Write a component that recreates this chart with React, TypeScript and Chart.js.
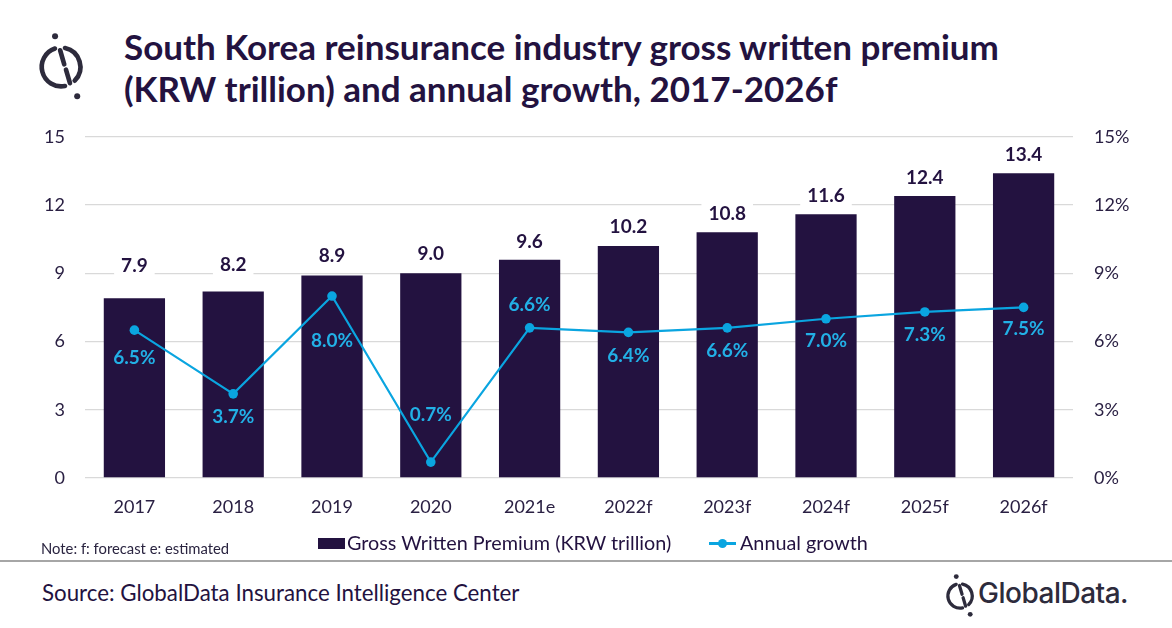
import React, { useEffect, useRef } from "react";
import { Chart, registerables } from "chart.js";

Chart.register(...registerables);

const categories = ["2017", "2018", "2019", "2020", "2021e", "2022f", "2023f", "2024f", "2025f", "2026f"];
const premium = [7.9, 8.2, 8.9, 9.0, 9.6, 10.2, 10.8, 11.6, 12.4, 13.4];
const growth = [6.5, 3.7, 8.0, 0.7, 6.6, 6.4, 6.6, 7.0, 7.3, 7.5];
const leftTicks = [0, 3, 6, 9, 12, 15];
const rightTicks = [0, 3, 6, 9, 12, 15];

// label placement (pixels relative to the mark)
const barLabelLift = [32, 27, 20, 19, 18, 19, 18, 18, 18, 18];
const growthLabelShift = [28, 23, 45, -47, -23, 23, 23, 22, 23, 21];

const DARK = "#231240";
const BLUE = "#0aa5e0";
const BLUE_TEXT = "#22b0e6";
const TEXT = "#2a2043";
const ICON = "#2d2b3c";
const FONT = "Lato";

const labelPlugin = {
  id: "valueLabels",
  afterDatasetsDraw(chart: any) {
    const ctx = chart.ctx;
    const barMeta = chart.getDatasetMeta(1);
    const lineMeta = chart.getDatasetMeta(0);
    ctx.save();
    ctx.textAlign = "center";
    ctx.textBaseline = "middle";
    ctx.font = `bold 19px ${FONT}`;
    barMeta.data.forEach((el: any, i: number) => {
      const txt = premium[i].toFixed(1);
      const cy = el.y - barLabelLift[i];
      const w = ctx.measureText(txt).width + 14;
      ctx.fillStyle = "#ffffff";
      ctx.fillRect(el.x - w / 2, cy - 12, w, 24);
      ctx.fillStyle = DARK;
      ctx.fillText(txt, el.x, cy);
    });
    ctx.font = `bold 19px ${FONT}`;
    ctx.fillStyle = BLUE_TEXT;
    lineMeta.data.forEach((el: any, i: number) => {
      const txt = growth[i].toFixed(1) + "%";
      ctx.fillText(txt, el.x, el.y + growthLabelShift[i]);
    });
    ctx.restore();
  },
};

function ChartBox() {
  const ref = useRef<HTMLCanvasElement | null>(null);
  useEffect(() => {
    if (!ref.current) return;
    const chart = new Chart(ref.current, {
      type: "bar",
      data: {
        labels: categories,
        datasets: [
          {
            type: "line",
            label: "Annual growth",
            data: growth,
            yAxisID: "y1",
            borderColor: BLUE,
            backgroundColor: BLUE,
            borderWidth: 2.2,
            pointRadius: 4.8,
            pointBackgroundColor: BLUE,
            pointBorderWidth: 0,
            tension: 0,
            order: 0,
          } as any,
          {
            type: "bar",
            label: "Gross Written Premium (KRW trillion)",
            data: premium,
            yAxisID: "y",
            backgroundColor: DARK,
            barPercentage: 0.62,
            categoryPercentage: 1.0,
            order: 1,
          },
        ],
      },
      options: {
        animation: false,
        responsive: false,
        devicePixelRatio: 1,
        layout: { padding: { top: 2, bottom: 0, left: 0, right: 0 } },
        plugins: { legend: { display: false }, tooltip: { enabled: false } },
        scales: {
          x: {
            grid: { display: false, drawTicks: false },
            border: { display: false },
            ticks: { font: { family: FONT, size: 18 }, color: TEXT, padding: 18 },
            afterFit: (s: any) => {
              s.height = 62;
            },
          },
          y: {
            position: "left",
            min: 0,
            max: 15,
            afterBuildTicks: (s: any) => {
              s.ticks = leftTicks.map((v) => ({ value: v }));
            },
            grid: { color: "#d9d9d9", drawTicks: false, lineWidth: 1.3 },
            border: { display: false },
            ticks: { font: { family: FONT, size: 18 }, color: TEXT, padding: 20, callback: (v: any) => String(v) },
            afterFit: (s: any) => {
              s.width = 85;
            },
          },
          y1: {
            position: "right",
            min: 0,
            max: 15,
            afterBuildTicks: (s: any) => {
              s.ticks = rightTicks.map((v) => ({ value: v }));
            },
            grid: { display: false, drawTicks: false },
            border: { display: false },
            ticks: { font: { family: FONT, size: 18 }, color: TEXT, padding: 21, callback: (v: any) => v + "%" },
            afterFit: (s: any) => {
              s.width = 99;
            },
          },
        },
      },
      plugins: [labelPlugin],
    });
    return () => chart.destroy();
  }, []);
  return <canvas ref={ref} width={1172} height={435} style={{ position: "absolute", left: 0, top: 105 }} />;
}

function Glyph({ cx, cy, s, sw, dr }: { cx: number; cy: number; s: number; sw: number; dr: number }) {
  return (
    <g transform={`translate(${cx} ${cy}) scale(${s})`}>
      <g fill="none" stroke={ICON} strokeWidth={sw} strokeLinecap="round">
        <path d="M -5.6 -17.1 A 18 18 0 0 0 3.7 17.6" />
        <path d="M 3.7 -17.6 A 18 18 0 0 1 12.7 12.7" />
        <path d="M -0.8 -15.5 L 3 -2.5" />
        <path d="M 4.6 2.5 L 8.3 15" />
      </g>
      <circle cx={-5.5} cy={-28.5} r={dr} fill={ICON} />
      <circle cx={15} cy={27} r={dr} fill={ICON} />
    </g>
  );
}

export default function App() {
  const abs = (s: React.CSSProperties): React.CSSProperties => ({ position: "absolute", whiteSpace: "nowrap", ...s });
  return (
    <div style={{ position: "absolute", left: 0, top: 0, width: 1172, height: 628, background: "#ffffff", overflow: "hidden", fontFamily: FONT }}>
      <svg width={1172} height={628} style={{ position: "absolute", left: 0, top: 0 }}>
        <Glyph cx={61} cy={67} s={1.08} sw={4.3} dr={2.8} />
        <Glyph cx={960} cy={596} s={0.68} sw={4.8} dr={3.6} />
      </svg>
      <div style={abs({ left: 124, top: 25, fontSize: 35, fontWeight: 700, lineHeight: "42px", color: DARK })}>
        South Korea reinsurance industry gross written premium
        <br />
        (KRW trillion) and annual growth, 2017-2026f
      </div>
      <ChartBox />
      <div style={abs({ left: 318, top: 538, width: 27, height: 11, background: DARK })} />
      <div style={abs({ left: 347, top: 530, fontSize: 19.8, lineHeight: "24px", color: DARK })}>Gross Written Premium (KRW trillion)</div>
      <div style={abs({ left: 709, top: 542, width: 27, height: 2.5, background: BLUE })} />
      <div style={abs({ left: 718, top: 539, width: 9, height: 9, borderRadius: "50%", background: BLUE })} />
      <div style={abs({ left: 740, top: 530, fontSize: 19.8, lineHeight: "24px", color: DARK })}>Annual growth</div>
      <div style={abs({ left: 41, top: 539, fontSize: 14.8, lineHeight: "18px", color: "#2a2440" })}>Note: f: forecast e: estimated</div>
      <div style={abs({ left: 0, top: 560, width: 1172, height: 2, background: "#a6a6a6" })} />
      <div style={abs({ left: 42, top: 579, fontSize: 22.3, lineHeight: "28px", color: DARK })}>Source: GlobalData Insurance Intelligence Center</div>
      <div style={abs({ left: 978, top: 576, fontSize: 28, lineHeight: "34px", color: ICON, fontFamily: "Inter", fontWeight: 500, letterSpacing: "-0.5px" })}>
        GlobalData.
      </div>
    </div>
  );
}
